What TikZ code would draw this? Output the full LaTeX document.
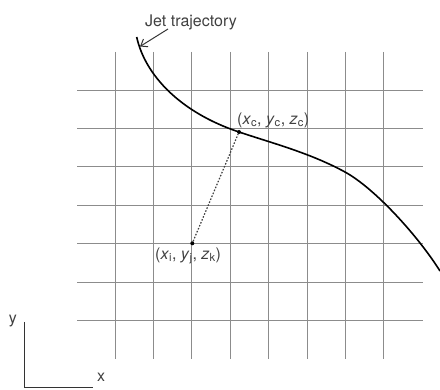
\documentclass[tikz,border=0pt]{standalone}
\usepackage{fontspec}
\setmainfont{TeX Gyre Heros}
\usetikzlibrary{arrows.meta}
\newcommand{\vsub}[2]{\textit{#1}\textsubscript{#2}}
\begin{document}
\begin{tikzpicture}[x=1pt,y=-1pt,
  gridline/.style={draw=black!45,line width=0.9pt},
  traj/.style={draw=black,line width=1.6pt},
  lbl/.style={inner sep=0pt,font=\fontsize{16}{18}\selectfont,text=black!75},
  ptdot/.style={circle,fill=black,inner sep=0pt,minimum size=4pt}]
\useasboundingbox (0,0) rectangle (440,390);
% grid
\foreach \k in {0,...,7}{
  \draw[gridline] (115+38.4*\k,52) -- (115+38.4*\k,359);
}
\foreach \k in {0,...,6}{
  \draw[gridline] (77,90+38.45*\k) -- (423,90+38.45*\k);
}
% points
\node[ptdot] (c) at (239,132) {};
\node[ptdot] (ijk) at (192.3,243.3) {};
% trajectory
\coordinate (t0) at (136.7,37);
\coordinate (t1) at (345,172);
\coordinate (t2) at (440,271);
\draw[traj] (t0) .. controls (145,75) and (180,112.3) .. (c.center)
  .. controls (274,143.7) and (310,153) .. (t1)
  .. controls (375,188.5) and (418,236) .. (t2);
\coordinate (tip) at (140,46.5);
\node[lbl] (jet) at (191,22) {Jet trajectory};
\draw[black!80,line width=1pt,-{Straight Barb[length=6pt,width=9pt]}] (168,29) -- (tip);
\draw[black!75,line width=1.2pt,dash pattern=on 1.6pt off 1.6pt] (ijk) -- (c);
\node[lbl,anchor=west] (clbl) at (237,120) {(\vsub{x}{c}, \vsub{y}{c}, \vsub{z}{c})};
\node[lbl,anchor=west] (ijklbl) at (155,256) {(\vsub{x}{i}, \vsub{y}{j}, \vsub{z}{k})};
% axes
\coordinate (o) at (24,388);
\coordinate (ytop) at (24,322);
\coordinate (xend) at (93,388);
\draw[black!80,line width=1pt] (ytop) -- (o) -- (xend);
\node[lbl] (ylbl) at (13,321) {y};
\node[lbl] (xlbl) at (101,377) {x};
\end{tikzpicture}
\end{document}
